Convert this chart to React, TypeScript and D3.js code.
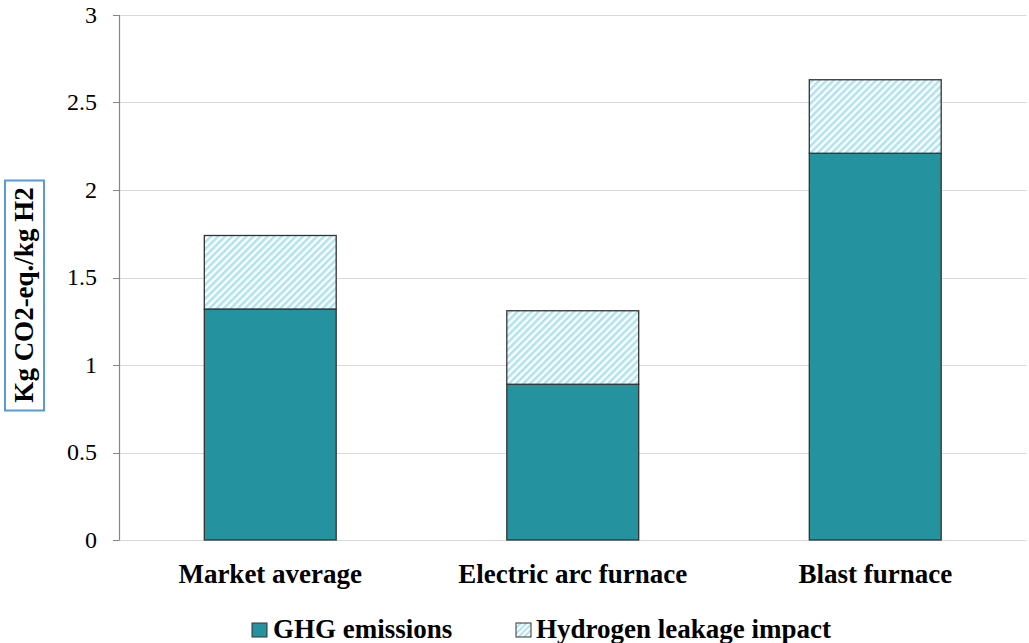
import React from "react";
import * as d3 from "d3";

const categories = ["Market average", "Electric arc furnace", "Blast furnace"];
const ghgEmissions = [1.32, 0.89, 2.21];
const hydrogenLeakage = [0.42, 0.42, 0.42];
const yTicks = [0, 0.5, 1, 1.5, 2, 2.5, 3];
const seriesNames = ["GHG emissions", "Hydrogen leakage impact"];

const W = 1029;
const H = 643;
const margin = { left: 119, right: 2.5, top: 15, bottom: 103 };
const TEAL = "#25929f";
const HATCH = "#aee3f0";
const FONT = "'Liberation Serif', 'Times New Roman', 'DejaVu Serif', serif";

export default function App() {
  const x = d3
    .scaleBand<string>()
    .domain(categories)
    .range([margin.left, W - margin.right])
    .paddingInner(0.564)
    .paddingOuter(0.282);
  const y = d3.scaleLinear().domain([0, 3]).range([H - margin.bottom, margin.top]);

  const rows = categories.map((c, i) => ({ c, g: ghgEmissions[i], h: hydrogenLeakage[i] }));
  const stack = d3.stack<any>().keys(["g", "h"])(rows);

  return (
    <svg
      width={W}
      height={H}
      style={{ position: "absolute", left: 0, top: 0, background: "#fff", fontFamily: FONT }}
    >
      <defs>
        <pattern id="hatch" patternUnits="userSpaceOnUse" width="5" height="5" patternTransform="rotate(45)">
          <rect width="5" height="5" fill="#fff" />
          <rect width="2.6" height="5" fill={HATCH} />
        </pattern>
        <pattern id="hatchSmall" patternUnits="userSpaceOnUse" width="4" height="4" patternTransform="rotate(45)">
          <rect width="4" height="4" fill="#fff" />
          <rect width="2" height="4" fill={HATCH} />
        </pattern>
      </defs>

      {/* grid lines */}
      {yTicks.map((t) => (
        <line
          key={"g" + t}
          x1={margin.left}
          x2={W - margin.right}
          y1={Math.round(y(t)) + 0.5}
          y2={Math.round(y(t)) + 0.5}
          stroke="#d9d9d9"
          strokeWidth={1}
        />
      ))}

      {/* y axis */}
      <line x1={margin.left + 0.5} x2={margin.left + 0.5} y1={y(3)} y2={y(0) + 0.5} stroke="#868686" strokeWidth={1.2} />
      {yTicks.map((t) => (
        <g key={"t" + t}>
          <line
            x1={margin.left - 6}
            x2={margin.left}
            y1={Math.round(y(t)) + 0.5}
            y2={Math.round(y(t)) + 0.5}
            stroke="#868686"
          />
          <text x={margin.left - 22} y={y(t)} dy="0.33em" textAnchor="end" fontSize={24} fill="#000">
            {t}
          </text>
        </g>
      ))}

      {/* bars */}
      {stack.map((layer, li) =>
        layer.map((d, i) => (
          <rect
            key={li + "-" + i}
            x={x(categories[i])!}
            width={x.bandwidth()}
            y={y(d[1])}
            height={y(d[0]) - y(d[1])}
            fill={li === 0 ? TEAL : "url(#hatch)"}
            stroke="#333"
            strokeWidth={1.3}
          />
        ))
      )}

      {/* category labels */}
      {categories.map((c) => (
        <text
          key={c}
          x={x(c)! + x.bandwidth() / 2}
          y={583}
          textAnchor="middle"
          fontSize={27}
          fontWeight="bold"
          fill="#000"
        >
          {c}
        </text>
      ))}

      {/* y axis title */}
      <rect x={5} y={180.5} width={39} height={230} fill="#fff" stroke="#5b9bd5" strokeWidth={2} />
      <text
        transform={`translate(33, ${295}) rotate(-90)`}
        textAnchor="middle"
        fontSize={27}
        fontWeight="bold"
        fill="#000"
      >
        Kg CO2-eq./kg H2
      </text>

      {/* legend */}
      <rect x={252} y={623} width={15} height={14} fill={TEAL} stroke="#333" strokeWidth={1} />
      <text x={273} y={638} fontSize={27} fontWeight="bold" fill="#000">
        {seriesNames[0]}
      </text>
      <rect x={516} y={623} width={15} height={14} fill="url(#hatchSmall)" stroke="#333" strokeWidth={1} />
      <text x={536} y={638} fontSize={27} fontWeight="bold" fill="#000">
        {seriesNames[1]}
      </text>
    </svg>
  );
}
